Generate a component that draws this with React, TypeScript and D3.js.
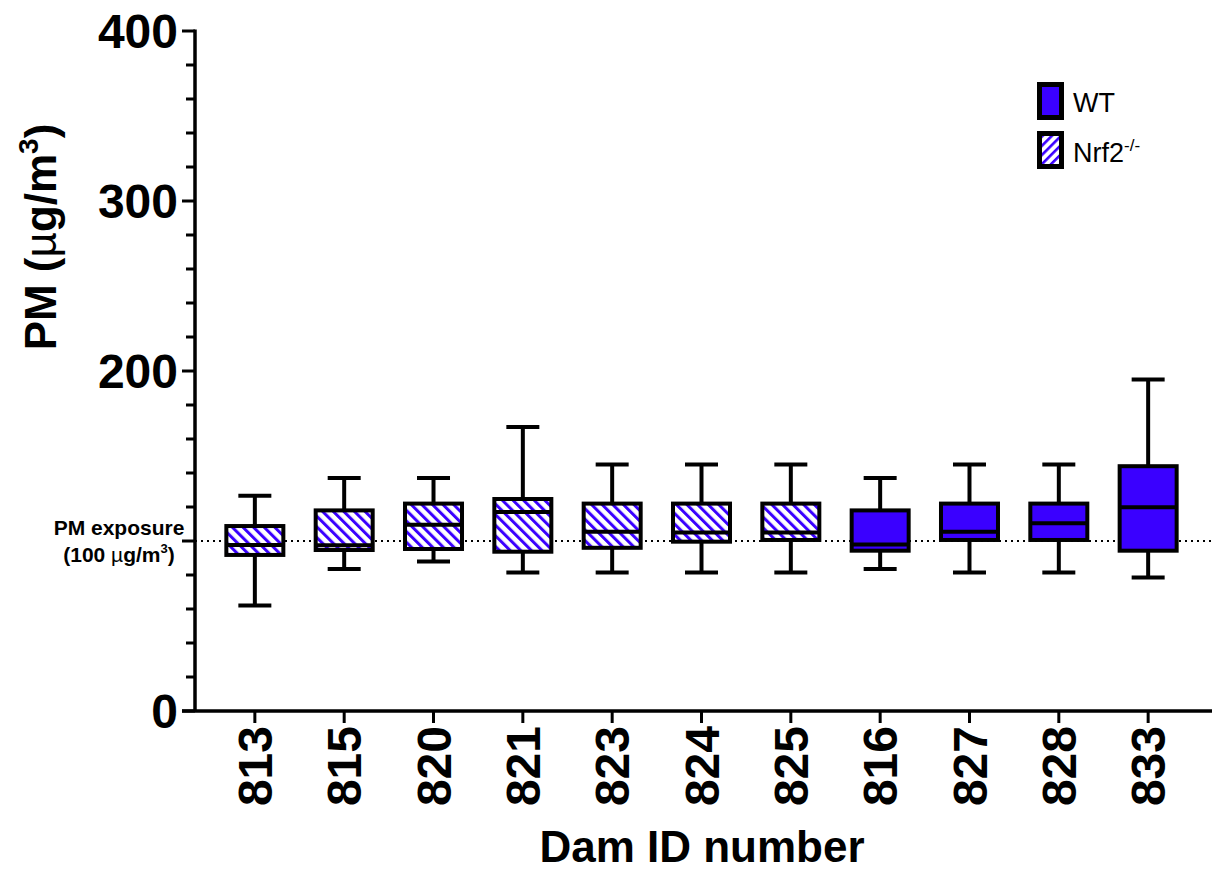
import React from "react";
import * as d3 from "d3";

const damIds = ["813", "815", "820", "821", "823", "824", "825", "816", "827", "828", "833"];
const genotype = ["Nrf2", "Nrf2", "Nrf2", "Nrf2", "Nrf2", "Nrf2", "Nrf2", "WT", "WT", "WT", "WT"];
const whiskerMin = [62, 83.5, 88, 81.5, 81.5, 81.5, 81.5, 83.5, 81.5, 81.5, 78.5];
const quartile1 = [91.8, 94.7, 95.3, 93.7, 96, 99.6, 100.6, 94.3, 100.6, 100.6, 94.3];
const medians = [97.6, 97.5, 109.6, 117, 105.5, 105, 105, 98, 105.5, 110.4, 119.8];
const quartile3 = [108.8, 118, 122, 124.7, 122, 122, 122, 118, 122, 122, 144];
const whiskerMax = [126.6, 137, 137, 167, 145, 145, 145, 137, 145, 145, 195];
const majorTicks = [0, 100, 200, 300, 400];
const yTickLabels = [0, 200, 300, 400];
const exposureLevel = 100;

const BLUE = "#3a00ff";
const FONT = "'Liberation Sans', Arial, Helvetica, sans-serif";

export default function App() {
  const W = 1219, H = 873;
  const x0 = 195, x1 = 1212;
  const y = d3.scaleLinear().domain([0, 400]).range([711, 31]);
  const x = d3.scalePoint<string>().domain(damIds).range([x0, 1208]).padding(0.67);
  const minorTicks = d3.range(0, 401, 20);
  const boxW = 57, capW = 33;

  return (
    <svg width={W} height={H} style={{ position: "absolute", left: 0, top: 0, background: "#fff" }} fontFamily={FONT}>
      <defs>
        <pattern id="hatch" patternUnits="userSpaceOnUse" width="7.5" height="7.5" patternTransform="rotate(-45)">
          <rect width="7.5" height="7.5" fill="#fff" />
          <rect width="3" height="7.5" fill={BLUE} />
        </pattern>
        <pattern id="hatchLeg" patternUnits="userSpaceOnUse" width="6.5" height="6.5" patternTransform="rotate(45)">
          <rect width="6.5" height="6.5" fill="#fff" />
          <rect width="2.6" height="6.5" fill={BLUE} />
        </pattern>
      </defs>

      {/* exposure dotted line */}
      <line x1={x0} x2={x1} y1={y(exposureLevel)} y2={y(exposureLevel)} stroke="#000" strokeWidth={2} strokeDasharray="2,4" />

      {/* boxes */}
      {damIds.map((id, i) => {
        const cx = x(id)!;
        const fill = genotype[i] === "WT" ? BLUE : "url(#hatch)";
        return (
          <g key={id} stroke="#000" strokeWidth={4}>
            <line x1={cx} x2={cx} y1={y(whiskerMax[i])} y2={y(quartile3[i])} />
            <line x1={cx} x2={cx} y1={y(quartile1[i])} y2={y(whiskerMin[i])} />
            <line x1={cx - capW / 2} x2={cx + capW / 2} y1={y(whiskerMax[i])} y2={y(whiskerMax[i])} />
            <line x1={cx - capW / 2} x2={cx + capW / 2} y1={y(whiskerMin[i])} y2={y(whiskerMin[i])} />
            <rect x={cx - boxW / 2} width={boxW} y={y(quartile3[i])} height={y(quartile1[i]) - y(quartile3[i])} fill={fill} />
            <line x1={cx - boxW / 2} x2={cx + boxW / 2} y1={y(medians[i])} y2={y(medians[i])} />
          </g>
        );
      })}

      {/* y axis */}
      <line x1={x0} x2={x0} y1={y(400) - 1.5} y2={y(0)} stroke="#000" strokeWidth={3.5} />
      {minorTicks.map((t) => (
        <line key={"m" + t} x1={x0 - (majorTicks.includes(t) ? 13 : 9)} x2={x0} y1={y(t)} y2={y(t)} stroke="#000" strokeWidth={3} />
      ))}
      {yTickLabels.map((t) => (
        <text key={"t" + t} x={178} y={y(t)} dy="0.36em" textAnchor="end" fontSize={48} fontWeight="bold">{t}</text>
      ))}

      {/* x axis */}
      <line x1={x0 - 13} x2={x1} y1={y(0)} y2={y(0)} stroke="#000" strokeWidth={3.5} />
      {damIds.map((id) => (
        <g key={"x" + id}>
          <line x1={x(id)!} x2={x(id)!} y1={y(0)} y2={y(0) + 12} stroke="#000" strokeWidth={3} />
          <text transform={`translate(${x(id)!},${y(0) + 15}) rotate(-90)`} dy="0.36em" textAnchor="end" fontSize={48} fontWeight="bold">{id}</text>
        </g>
      ))}

      {/* axis titles */}
      <text x={702} y={862} textAnchor="middle" fontSize={44} fontWeight="bold">Dam ID number</text>
      <text transform="translate(56,237) rotate(-90)" textAnchor="middle" fontSize={44} fontWeight="bold">
        PM (<tspan fontWeight="normal">µ</tspan>g/m<tspan fontSize={28} dy={-18}>3</tspan><tspan dy={18}>)</tspan>
      </text>

      {/* exposure label */}
      <text x={119} y={535} textAnchor="middle" fontSize={21} fontWeight="bold">PM exposure</text>
      <text x={119} y={562} textAnchor="middle" fontSize={21} fontWeight="bold">
        (100 <tspan fontWeight="normal">µ</tspan>g/m<tspan fontSize={13} dy={-9}>3</tspan><tspan dy={9}>)</tspan>
      </text>

      {/* legend */}
      <rect x={1039.5} y={84.5} width={22} height={33} fill={BLUE} stroke="#000" strokeWidth={5} />
      <text x={1073} y={112} fontSize={27}>WT</text>
      <rect x={1039.5} y={133.5} width={22} height={33} fill="url(#hatchLeg)" stroke="#000" strokeWidth={5} />
      <text x={1073} y={162} fontSize={27}>
        Nrf2<tspan fontSize={17} dy={-11}>-/-</tspan>
      </text>
    </svg>
  );
}
